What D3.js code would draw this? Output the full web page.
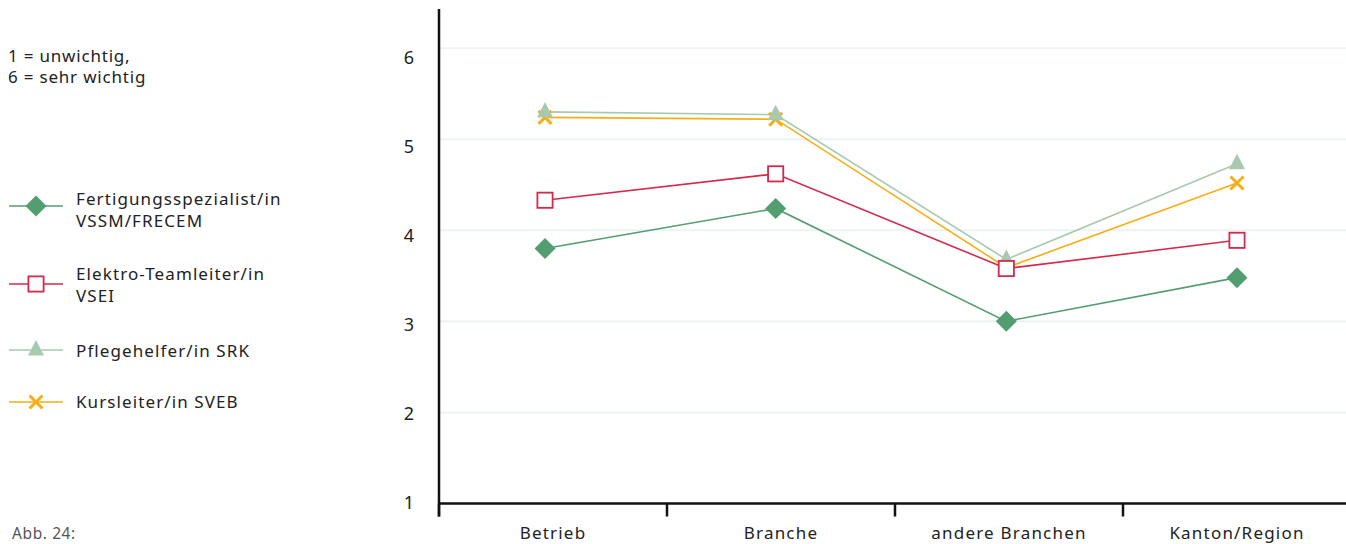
<!DOCTYPE html>
<html>
<head>
<meta charset="utf-8">
<script src="https://cdn.jsdelivr.net/npm/d3@7"></script>
<style>
  html, body { margin: 0; padding: 0; background: #fff; }
  svg { display: block; font-family: "Noto Sans", "DejaVu Sans", sans-serif; }
</style>
</head>
<body>
<svg id="chart" width="1346" height="544"></svg>
<script>
// ---- data ----
const categories = ["Betrieb", "Branche", "andere Branchen", "Kanton/Region"];
const seriesNames = [
  ["Fertigungsspezialist/in", "VSSM/FRECEM"],
  ["Elektro-Teamleiter/in", "VSEI"],
  ["Pflegehelfer/in SRK"],
  ["Kursleiter/in SVEB"]
];
const fertigungValues = [3.80, 4.24, 3.00, 3.48];
const elektroValues   = [4.33, 4.62, 3.58, 3.89];
const pflegeValues    = [5.30, 5.27, 3.68, 4.73];
const kursValues      = [5.24, 5.22, 3.59, 4.52];
const yTicks = [1, 2, 3, 4, 5, 6];
const noteLines = ["1 = unwichtig,", "6 = sehr wichtig"];
const captionText = "Abb. 24:";

// ---- styles ----
const series = [
  { names: seriesNames[0], values: fertigungValues, color: "#529e70", marker: "diamond" },
  { names: seriesNames[1], values: elektroValues,   color: "#d4294c", marker: "square" },
  { names: seriesNames[2], values: pflegeValues,    color: "#a7c9af", marker: "triangle" },
  { names: seriesNames[3], values: kursValues,      color: "#f9ad14", marker: "cross" }
];

const svg = d3.select("#chart");
const pLeft = 439, pRight = 1346, pTop = 9, pBottom = 503.5;

const xBand = d3.scaleBand().domain(categories).range([pLeft, 1351]);
const xPt = d3.scalePoint().domain(categories).range([545, 1237]);
const y = d3.scaleLinear().domain([1, 6.43]).range([pBottom, pTop]);
const yLab = d3.scaleLinear().domain([1, 6]).range([503, 58]);

// grid
svg.append("g").selectAll("line").data(yTicks.filter(d => d > 1)).join("line")
  .attr("x1", pLeft).attr("x2", pRight)
  .attr("y1", d => y(d)).attr("y2", d => y(d))
  .attr("stroke", "#edf3f5").attr("stroke-width", 2);

// axes
svg.append("line").attr("x1", pLeft).attr("x2", pLeft).attr("y1", pTop).attr("y2", pBottom + 13)
  .attr("stroke", "#111").attr("stroke-width", 2.5);
svg.append("line").attr("x1", pLeft).attr("x2", pRight).attr("y1", pBottom).attr("y2", pBottom)
  .attr("stroke", "#111").attr("stroke-width", 2.5);
svg.append("g").selectAll("line").data(categories).join("line")
  .attr("x1", d => xBand(d)).attr("x2", d => xBand(d))
  .attr("y1", pBottom).attr("y2", pBottom + 13)
  .attr("stroke", "#111").attr("stroke-width", 2.5);

// x labels
svg.append("g").selectAll("text").data(categories).join("text")
  .attr("x", d => xBand(d) + xBand.bandwidth() / 2)
  .attr("y", 539)
  .attr("text-anchor", "middle")
  .attr("font-size", 17)
  .attr("letter-spacing", 1.2)
  .attr("fill", "#222")
  .text(d => d);

// y labels
svg.append("g").selectAll("text").data(yTicks).join("text")
  .attr("x", 414).attr("y", d => yLab(d))
  .attr("dy", "0.36em")
  .attr("text-anchor", "end")
  .attr("font-size", 18)
  .attr("fill", "#222")
  .text(d => d);

// marker drawing
function drawMarker(g, type, color, cx, cy, scale) {
  const s = scale || 1;
  if (type === "diamond") {
    const r = 10.5 * s;
    g.append("path").attr("d", `M${cx},${cy - r}L${cx + r},${cy}L${cx},${cy + r}L${cx - r},${cy}Z`)
      .attr("fill", color);
  } else if (type === "square") {
    const h = 7.6 * s;
    g.append("rect").attr("x", cx - h).attr("y", cy - h).attr("width", 2 * h).attr("height", 2 * h)
      .attr("fill", "#fff").attr("stroke", color).attr("stroke-width", 1.8);
  } else if (type === "triangle") {
    const w = 8 * s;
    g.append("path").attr("d", `M${cx},${cy - 10 * s}L${cx + w},${cy + 5.5 * s}L${cx - w},${cy + 5.5 * s}Z`)
      .attr("fill", color);
  } else if (type === "cross") {
    const h = 6.5 * s;
    g.append("path").attr("d", `M${cx - h},${cy - h}L${cx + h},${cy + h}M${cx + h},${cy - h}L${cx - h},${cy + h}`)
      .attr("stroke", color).attr("stroke-width", 3).attr("fill", "none");
  }
}

const line = d3.line().x(d => xPt(d.cat)).y(d => y(d.v));
const plot = svg.append("g");
series.forEach(s => {
  const pts = categories.map((c, i) => ({ cat: c, v: s.values[i] }));
  plot.append("path").datum(pts).attr("d", line)
    .attr("fill", "none").attr("stroke", s.color).attr("stroke-width", 1.6);
});
series.slice().reverse().forEach(s => {
  const g = plot.append("g");
  categories.forEach((c, i) => drawMarker(g, s.marker, s.color, xPt(c), y(s.values[i])));
});

// note
svg.append("g").selectAll("text").data(noteLines).join("text")
  .attr("x", 8).attr("y", (d, i) => 62 + i * 21)
  .attr("font-size", 17)
  .attr("letter-spacing", 0.8)
  .attr("fill", "#222")
  .text(d => d);

// legend
const legendY = [206, 284, 350, 402];
const legendBaseline = [205, 280, 357, 408];
const leg = svg.append("g");
series.forEach((s, i) => {
  const g = leg.append("g");
  g.append("line").attr("x1", 9).attr("x2", 63).attr("y1", legendY[i]).attr("y2", legendY[i])
    .attr("stroke", s.color).attr("stroke-width", 1.6);
  drawMarker(g, s.marker, s.color, 36, legendY[i], 1);
  s.names.forEach((n, j) => {
    g.append("text").attr("x", 76).attr("y", legendBaseline[i] + j * 22)
      .attr("font-size", 17).attr("letter-spacing", 1.1)
      .attr("fill", "#222").text(n);
  });
});

// caption
svg.append("text").attr("x", 12).attr("y", 539)
  .attr("font-size", 15.5).attr("letter-spacing", 0.6)
  .attr("fill", "#555").text(captionText);
</script>
</body>
</html>
